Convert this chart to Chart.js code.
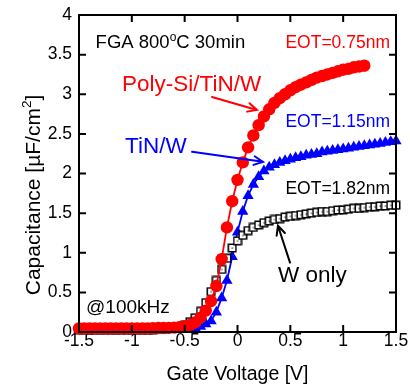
<!DOCTYPE html>
<html><head><meta charset="utf-8">
<script src="https://cdn.jsdelivr.net/npm/chart.js@4"></script>
<style>html,body{margin:0;padding:0;background:#fff}#wrap{width:410px;height:387px;position:relative}</style>
</head><body><div id="wrap"><canvas id="c"></canvas></div>
<script>
// Gate voltage [V]
const voltages = [-1.50,-1.45,-1.40,-1.35,-1.30,-1.25,-1.20,-1.15,-1.10,-1.05,-1.00,-0.95,-0.90,-0.85,-0.80,-0.75,-0.70,-0.65,-0.60,-0.55,-0.50,-0.45,-0.40,-0.35,-0.30,-0.25,-0.20,-0.15,-0.10,-0.05,0.00,0.05,0.10,0.15,0.20,0.25,0.30,0.35,0.40,0.45,0.50,0.55,0.60,0.65,0.70,0.75,0.80,0.85,0.90,0.95,1.00,1.05,1.10,1.15,1.20,1.25,1.30,1.35,1.40,1.45,1.50];
// Capacitance [uF/cm2], Poly-Si/TiN/W (EOT=0.75nm), measured up to 1.2 V
const polySiTiNW = [0.045,0.045,0.045,0.045,0.045,0.045,0.045,0.045,0.045,0.045,0.045,0.045,0.045,0.045,0.048,0.05,0.05,0.052,0.055,0.06,0.07,0.09,0.12,0.18,0.27,0.39,0.58,0.92,1.32,1.65,1.92,2.14,2.33,2.48,2.61,2.72,2.81,2.89,2.95,3.00,3.05,3.09,3.12,3.15,3.18,3.21,3.23,3.25,3.27,3.29,3.31,3.32,3.34,3.35,3.36];
// TiN/W (EOT=1.15nm)
const tinW = [0.03,0.03,0.03,0.03,0.03,0.03,0.03,0.03,0.03,0.03,0.03,0.03,0.03,0.03,0.03,0.03,0.03,0.03,0.03,0.035,0.04,0.045,0.05,0.07,0.10,0.14,0.25,0.43,0.65,0.95,1.26,1.52,1.72,1.86,1.96,2.03,2.08,2.11,2.14,2.16,2.18,2.20,2.21,2.23,2.24,2.25,2.27,2.28,2.29,2.30,2.31,2.32,2.33,2.34,2.35,2.36,2.37,2.38,2.39,2.40,2.41];
// W only (EOT=1.82nm)
const wOnly = [0.03,0.03,0.03,0.03,0.03,0.03,0.03,0.03,0.03,0.03,0.03,0.03,0.03,0.03,0.03,0.035,0.04,0.045,0.05,0.065,0.09,0.13,0.18,0.26,0.37,0.51,0.65,0.79,0.93,1.06,1.15,1.22,1.28,1.32,1.35,1.38,1.40,1.42,1.43,1.45,1.46,1.47,1.48,1.49,1.50,1.51,1.52,1.52,1.53,1.54,1.54,1.55,1.56,1.56,1.57,1.58,1.58,1.59,1.59,1.60,1.60];
const xTickValues = [-1.5,-1,-0.5,0,0.5,1,1.5];
const yTickValues = [0,0.5,1,1.5,2,2.5,3,3.5,4];

const FONT = "'Liberation Sans', Arial, Helvetica, sans-serif";

function pts(vals){ return vals.map((c,i)=>({x:voltages[i], y:c})); }

function makeSquare(){
  const c=document.createElement('canvas'); c.width=10; c.height=10;
  const g=c.getContext('2d');
  g.fillStyle='#fff'; g.fillRect(1,1,8,8);
  g.strokeStyle='#000'; g.lineWidth=1.5; g.strokeRect(1.25,1.25,7.5,7.5);
  g.fillStyle='#000'; g.fillRect(4.5,4.5,1.2,1.2);
  return c;
}

// annotations in data coordinates
const notes = [
  {parts:[["FGA 800",18.5,0],["o",12,-7.5],["C 30min",18.5,0]], v:-1.343, c:3.583, align:'left', color:'#000'},
  {parts:[["EOT=0.75nm",17.5,0]], v:1.443, c:3.583, align:'right', color:'#ff0000'},
  {parts:[["Poly-Si/TiN/W",22.5,0]], v:-1.093, c:3.045, align:'left', color:'#ff0000'},
  {parts:[["EOT=1.15nm",17.5,0]], v:1.443, c:2.588, align:'right', color:'#0000ff'},
  {parts:[["TiN/W",22.5,0]], v:-1.064, c:2.261, align:'left', color:'#0000ff'},
  {parts:[["EOT=1.82nm",17.5,0]], v:1.443, c:1.744, align:'right', color:'#000'},
  {parts:[["W only",22.5,0]], v:0.383, c:0.636, align:'left', color:'#000'},
  {parts:[["@100kHz",19,0]], v:-1.433, c:0.246, align:'left', color:'#000'}
];
const arrows = [
  {from:[-0.241,2.966], to:[0.184,2.802], color:'#ff0000'},
  {from:[-0.430,2.273], to:[0.241,2.147], color:'#0000ff'},
  {from:[0.497,0.875], to:[0.383,1.341], color:'#000'}
];

function drawRich(ctx, parts, x, y, align){
  let total=0;
  parts.forEach(p=>{ctx.font=p[1]+'px '+FONT; total+=ctx.measureText(p[0]).width;});
  let cx = align==='right' ? x-total : (align==='center' ? x-total/2 : x);
  ctx.textAlign='left'; ctx.textBaseline='alphabetic';
  parts.forEach(p=>{ctx.font=p[1]+'px '+FONT; ctx.fillText(p[0], cx, y+p[2]); cx+=ctx.measureText(p[0]).width;});
}

const framePlugin = {
  id:'frame',
  afterDraw(chart){
    const {ctx, chartArea:a, scales:{x, y}} = chart;
    ctx.save();
    ctx.strokeStyle='#000'; ctx.lineWidth=2;
    ctx.strokeRect(a.left, a.top, a.right-a.left, a.bottom-a.top);
    const tl=7;
    ctx.beginPath();
    xTickValues.forEach(v=>{const px=x.getPixelForValue(v);
      ctx.moveTo(px,a.bottom); ctx.lineTo(px,a.bottom-tl);
      ctx.moveTo(px,a.top); ctx.lineTo(px,a.top+tl);});
    yTickValues.forEach(v=>{const py=y.getPixelForValue(v);
      ctx.moveTo(a.left,py); ctx.lineTo(a.left+tl,py);
      ctx.moveTo(a.right,py); ctx.lineTo(a.right-tl,py);});
    ctx.stroke();
    // annotations
    notes.forEach(n=>{ctx.fillStyle=n.color; drawRich(ctx, n.parts, x.getPixelForValue(n.v), y.getPixelForValue(n.c), n.align);});
    arrows.forEach(ar=>{
      const x1=x.getPixelForValue(ar.from[0]), y1=y.getPixelForValue(ar.from[1]);
      const x2=x.getPixelForValue(ar.to[0]), y2=y.getPixelForValue(ar.to[1]);
      const ang=Math.atan2(y2-y1,x2-x1), hl=10, ha=0.45;
      ctx.strokeStyle=ar.color; ctx.lineWidth=2; ctx.lineCap='round';
      ctx.beginPath(); ctx.moveTo(x1,y1); ctx.lineTo(x2,y2);
      ctx.moveTo(x2-hl*Math.cos(ang-ha), y2-hl*Math.sin(ang-ha)); ctx.lineTo(x2,y2);
      ctx.lineTo(x2-hl*Math.cos(ang+ha), y2-hl*Math.sin(ang+ha));
      ctx.stroke();
    });
    // axis titles
    ctx.fillStyle='#000';
    drawRich(ctx, [["Gate Voltage [V]",19.5,0]], (a.left+a.right)/2, 380, 'center');
    ctx.translate(39.5, 195); ctx.rotate(-Math.PI/2);
    drawRich(ctx, [["Capacitance [\u00B5F/cm",21,0],["2",13.5,-9],["]",21,0]], 0, 0, 'center');
    ctx.restore();
  }
};

const sq = makeSquare();
new Chart(document.getElementById('c'), {
  type:'scatter',
  data:{datasets:[
    {label:'Poly-Si/TiN/W', data:pts(polySiTiNW), showLine:true, borderColor:'#ff0000', borderWidth:1.8,
     backgroundColor:'#ff0000', pointBackgroundColor:'#ff0000', pointBorderWidth:0, pointRadius:6.2, pointStyle:'circle', order:0, clip:false},
    {label:'W only', data:pts(wOnly), showLine:false, pointStyle:sq, pointRadius:5, order:1, clip:false},
    {label:'TiN/W', data:pts(tinW), showLine:true, borderColor:'#0000ff', borderWidth:1.8,
     backgroundColor:'#0000ff', pointBackgroundColor:'#0000ff', pointBorderWidth:0, pointRadius:6.5, pointStyle:'triangle', order:2, clip:false}
  ]},
  options:{
    responsive:true, maintainAspectRatio:false, animation:false,
    layout:{padding:{top:15,right:14,left:0,bottom:0}},
    plugins:{legend:{display:false}, tooltip:{enabled:false}},
    scales:{
      x:{type:'linear', min:-1.5, max:1.5,
        afterBuildTicks:s=>{s.ticks=xTickValues.map(v=>({value:v}));},
        grid:{display:false, drawTicks:false}, border:{display:false},
        ticks:{color:'#000', font:{family:FONT, size:17.5, lineHeight:1}, padding:0, maxRotation:0, autoSkip:false, callback:v=>String(v)},
        afterFit:s=>{s.height=55; s.paddingLeft=0; s.paddingRight=0;}},
      y:{type:'linear', min:0, max:4,
        afterBuildTicks:s=>{s.ticks=yTickValues.map(v=>({value:v}));},
        grid:{display:false, drawTicks:false}, border:{display:false},
        ticks:{color:'#000', font:{family:FONT, size:17.5, lineHeight:1}, padding:7, autoSkip:false, callback:v=>String(v)},
        afterFit:s=>{s.width=79; s.paddingTop=0; s.paddingBottom=0;}}
    }
  },
  plugins:[framePlugin]
});
</script></body></html>
